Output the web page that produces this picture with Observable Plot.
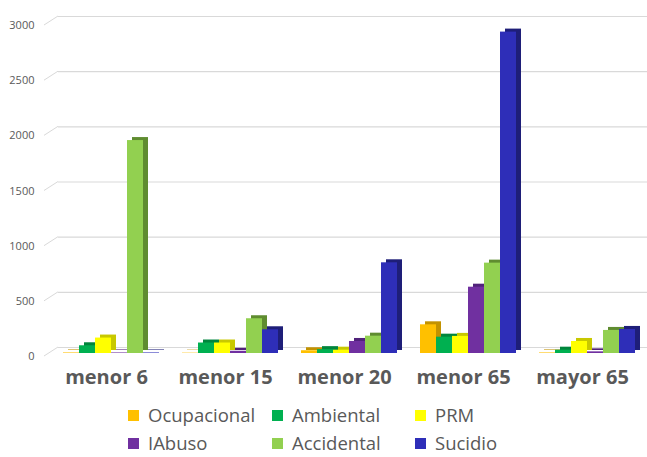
<!DOCTYPE html>
<html>
<head>
<meta charset="utf-8">
<script src="https://cdn.jsdelivr.net/npm/d3@7"></script>
<script src="https://cdn.jsdelivr.net/npm/@observablehq/plot@0.6"></script>
<style>
  html, body { margin: 0; padding: 0; background: #ffffff; }
  #wrap { position: relative; width: 647px; height: 457px; }
  #legend { position: absolute; left: 128px; top: 404px; display: grid;
    grid-template-columns: 144px 143px auto; grid-auto-rows: 22px; row-gap: 6px;
    font-family: "Open Sans", sans-serif; font-size: 18.5px; line-height: 22px; color: #595959; }
  .item { display: flex; align-items: center; height: 22px; white-space: nowrap; }
  .sw { width: 11px; height: 11px; margin-right: 9px; flex: none; }
</style>
</head>
<body>
<div id="wrap"><div id="chart"></div><div id="legend"></div></div>
<script>
// ---- data ----
const categories = ["menor 6", "menor 15", "menor 20", "menor 65", "mayor 65"];
const series = ["Ocupacional", "Ambiental", "PRM", "IAbuso", "Accidental", "Sucidio"];
const ocupacional = [5, 3, 25, 260, 5];
const ambiental   = [70, 95, 35, 148, 30];
const prm         = [140, 95, 30, 155, 109];
const iabuso      = [5, 20, 109, 601, 15];
const accidental  = [1930, 315, 157, 819, 209];
const sucidio     = [5, 215, 822, 2913, 218];
const yTicks = [0, 500, 1000, 1500, 2000, 2500, 3000];

const frontColors = ["#FFC000", "#00B050", "#FFFF00", "#7030A0", "#92D050", "#2E2EB8"];
const sideColors  = ["#C29200", "#00853C", "#C8C800", "#50227A", "#5F8C30", "#1E1E78"];

const valuesBySeries = [ocupacional, ambiental, prm, iabuso, accidental, sucidio];
const rows = [];
series.forEach((s, si) => categories.forEach((c, ci) =>
  rows.push({category: c, series: s, si, value: valuesBySeries[si][ci]})));

const barW = 16, nS = series.length;
const barMarks = [];
series.forEach((s, si) => {
  const data = rows.filter(r => r.series === s);
  const insets = {insetLeft: si * barW, insetRight: (nS - 1 - si) * barW};
  // side/top (depth) face
  barMarks.push(Plot.barY(data, {x: "category", y: "value", fill: sideColors[si], dx: 5, dy: -3, ...insets}));
  // front face
  barMarks.push(Plot.barY(data, {x: "category", y: "value", fill: frontColors[si], ...insets}));
});

// slanted floor connectors for gridlines
function slants(index, scales, values, dimensions) {
  const g = d3.create("svg:g");
  if (!scales || !scales.y) return g.node();
  const x0 = dimensions.marginLeft;
  for (const t of yTicks) {
    const y = scales.y(t);
    g.append("line").attr("x1", x0 - 12).attr("y1", y + 3).attr("x2", x0 + 2).attr("y2", y - 6)
      .attr("stroke", "#d9d9d9").attr("stroke-width", 1);
  }
  return g.node();
}

const chart = Plot.plot({
  width: 647,
  height: 398,
  marginLeft: 56,
  marginRight: 5,
  marginTop: 22,
  marginBottom: 45,
  style: {fontFamily: "Open Sans, sans-serif", background: "transparent"},
  x: {domain: categories, paddingInner: 0.197, paddingOuter: 0.05, axis: null},
  y: {domain: [0, 3000], axis: null},
  marks: [
    Plot.ruleY(yTicks, {dy: -6, stroke: "#d9d9d9", strokeWidth: 1.2, insetLeft: 2, insetRight: -6}),
    slants,
    Plot.text(yTicks, {y: d => d, text: d => String(d), frameAnchor: "left", dx: -22, dy: 3,
      textAnchor: "end", fontSize: 11, fill: "#595959"}),
    ...barMarks,
    Plot.text(categories, {x: d => d, text: d => d, frameAnchor: "bottom", dy: 30, dx: -5,
      fontSize: 20, fontWeight: "bold", fill: "#595959"})
  ]
});
document.getElementById("chart").appendChild(chart);

// legend
const legend = document.getElementById("legend");
series.forEach((s, i) => {
  const item = document.createElement("div");
  item.className = "item";
  const sw = document.createElement("span");
  sw.className = "sw";
  sw.style.background = frontColors[i];
  const tx = document.createElement("span");
  tx.textContent = s;
  item.appendChild(sw); item.appendChild(tx);
  legend.appendChild(item);
});
</script>
</body>
</html>
